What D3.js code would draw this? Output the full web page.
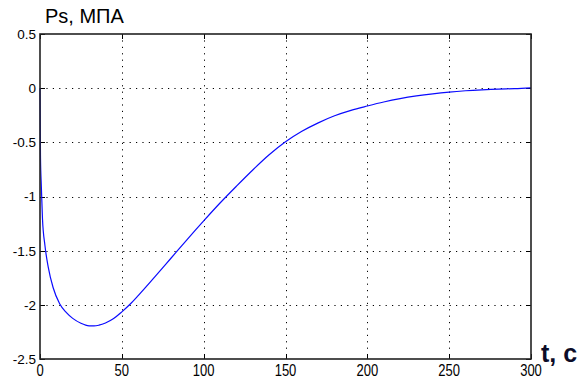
<!DOCTYPE html>
<html>
<head>
<meta charset="utf-8">
<script src="https://cdn.jsdelivr.net/npm/d3@7"></script>
<style>
  html, body { margin: 0; padding: 0; background: #fff; }
  svg { display: block; }
</style>
</head>
<body>
<svg id="chart"></svg>
<script>
// time, s
const times = [0, 0.3, 0.8, 1.5, 3, 5, 8, 12, 16, 20, 25, 30, 33, 36, 40, 45, 50, 55, 60, 70,
    80, 90, 100, 110, 120, 130, 140, 150, 160, 170, 180, 190, 200, 210, 220, 230, 240, 250,
    260, 270, 280, 290, 300];
// Ps, MPa
const pressure = [0, -0.64, -0.9, -1.2, -1.45, -1.65, -1.84, -1.99, -2.07, -2.125, -2.17, -2.194,
    -2.195, -2.188, -2.168, -2.127, -2.065, -1.995, -1.915, -1.745,
    -1.57, -1.395, -1.225, -1.06, -0.905, -0.755, -0.615, -0.495, -0.398, -0.32, -0.255, -0.205, -0.165,
    -0.128, -0.097, -0.072, -0.052, -0.036, -0.024, -0.015, -0.008, -0.004, 0.003];
const xTicks = [0, 50, 100, 150, 200, 250, 300];
const yTicks = [-2.5, -2, -1.5, -1, -0.5, 0, 0.5];
const yTickLabels = ['-2.5', '-2', '-1.5', '-1', '-0.5', '0', '0.5'];

function translate(x, y) {
    return `translate(${x},${y})`;
}

let width = 587, height = 381;
let plotLeft = 40, plotRight = 531, plotTop = 34, plotBottom = 359;

let svg = d3.select('#chart')
    .attr('width', width)
    .attr('height', height)
    .style('font-family', 'Arial, "Liberation Sans", sans-serif');

let x = d3.scaleLinear().domain([0, 300]).range([plotLeft, plotRight]);
let y = d3.scaleLinear().domain([-2.5, 0.5]).range([plotBottom, plotTop]);

// grid
let grid = svg.append('g')
    .style('stroke', '#000')
    .style('stroke-width', 1)
    .style('stroke-dasharray', '1.2,5.2');

grid.selectAll('line.vx')
    .data(xTicks.slice(1, -1))
    .enter().append('line')
    .attr('x1', d => Math.round(x(d)) + 0.5).attr('x2', d => Math.round(x(d)) + 0.5)
    .attr('y1', plotTop).attr('y2', plotBottom);

grid.selectAll('line.hy')
    .data(yTicks.slice(1, -1))
    .enter().append('line')
    .attr('x1', plotLeft).attr('x2', plotRight)
    .attr('y1', d => Math.round(y(d)) + 0.5).attr('y2', d => Math.round(y(d)) + 0.5);

// inside ticks on all four sides
let tickLen = 5;
let ticks = svg.append('g').style('stroke', '#000').style('stroke-width', 1);
xTicks.forEach(d => {
    let px = Math.round(x(d)) + 0.5;
    ticks.append('line').attr('x1', px).attr('x2', px).attr('y1', plotBottom).attr('y2', plotBottom - tickLen);
    ticks.append('line').attr('x1', px).attr('x2', px).attr('y1', plotTop).attr('y2', plotTop + tickLen);
});
yTicks.forEach(d => {
    let py = Math.round(y(d)) + 0.5;
    ticks.append('line').attr('x1', plotLeft).attr('x2', plotLeft + tickLen).attr('y1', py).attr('y2', py);
    ticks.append('line').attr('x1', plotRight).attr('x2', plotRight - tickLen).attr('y1', py).attr('y2', py);
});

// data line
let line = d3.line()
    .x((d, i) => x(times[i]))
    .y(d => y(d))
    .curve(d3.curveMonotoneX);

svg.append('path')
    .datum(pressure)
    .attr('d', line)
    .attr('fill', 'none')
    .attr('stroke', '#0a0aff')
    .attr('stroke-width', 1.2);

// box
svg.append('rect')
    .attr('x', plotLeft)
    .attr('y', plotTop)
    .attr('width', plotRight - plotLeft)
    .attr('height', plotBottom - plotTop)
    .attr('fill', 'none')
    .attr('stroke', '#222')
    .attr('stroke-width', 1.6);

// tick labels
svg.append('g')
    .selectAll('text')
    .data(yTicks)
    .enter().append('text')
    .attr('x', plotLeft - 4)
    .attr('y', d => y(d))
    .attr('dy', '0.36em')
    .attr('text-anchor', 'end')
    .style('font-size', '13.5px')
    .text((d, i) => yTickLabels[i]);

svg.append('g')
    .selectAll('text')
    .data(xTicks)
    .enter().append('text')
    .attr('transform', d => translate(x(d), 376) + ' scale(1,1.3)')
    .attr('text-anchor', 'middle')
    .style('font-size', '13px')
    .text(d => d);

// axis titles
svg.append('text')
    .attr('x', 45)
    .attr('y', 23)
    .style('font-size', '20px')
    .text('Ps, МПА');

svg.append('text')
    .attr('x', 541)
    .attr('y', 362)
    .style('font-size', '25px')
    .style('font-weight', 'bold')
    .style('fill', '#0c0c28')
    .text('t, c');
</script>
</body>
</html>
